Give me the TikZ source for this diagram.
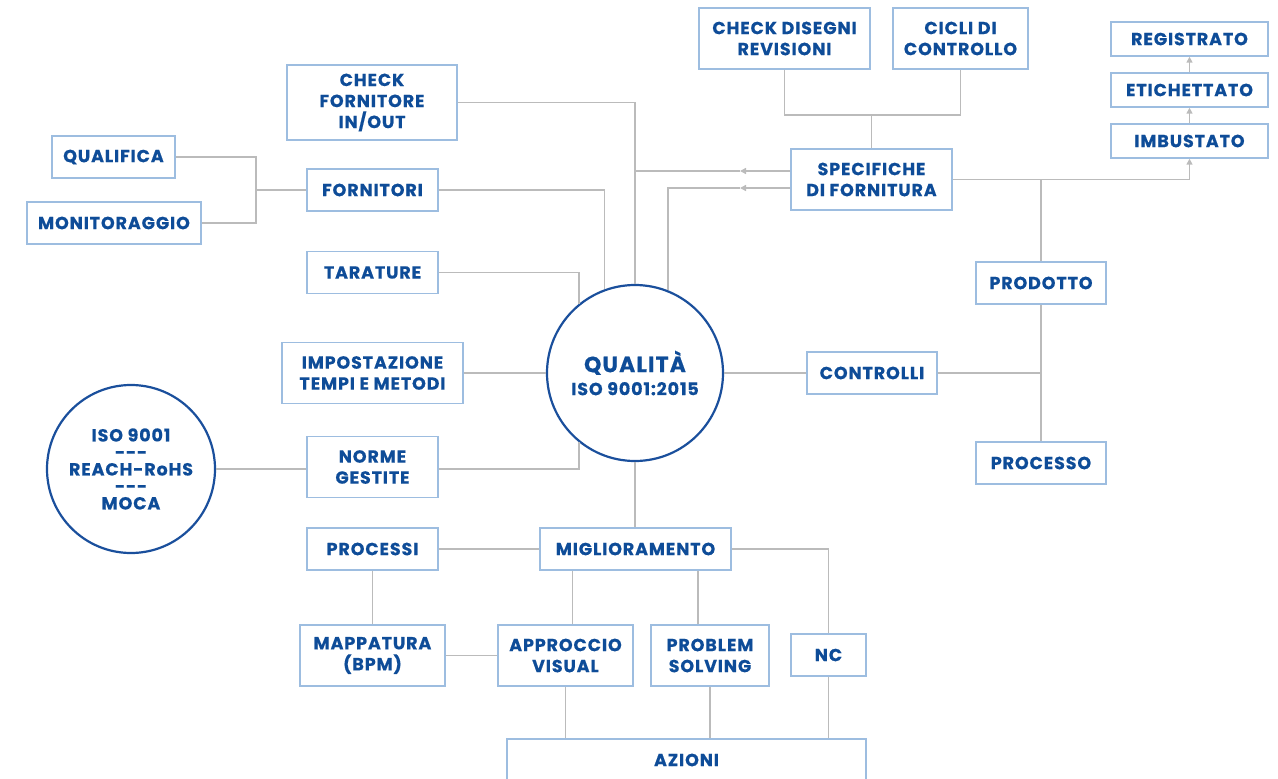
\documentclass[tikz,border=0pt]{standalone}
\usepackage{fontspec}
\setmainfont{Poppins}[LetterSpace=5, BoldFeatures={FakeBold=0.4}]
\usetikzlibrary{arrows.meta}
\definecolor{lbl}{HTML}{0E4C98}
\definecolor{frame}{HTML}{9DBDE0}
\definecolor{ringblue}{HTML}{1A4F9C}
\definecolor{wire}{HTML}{BBBBBB}

\begin{document}
\begin{tikzpicture}[x=1pt,y=-1pt,
  box/.style={draw=frame, line width=1.4pt, fill=white, inner sep=0pt, text=lbl,
    font=\bfseries\fontsize{17.5}{21}\selectfont, align=center},
  ring/.style={circle, draw=ringblue, line width=2.2pt, fill=white, inner sep=0pt,
    text=lbl, align=center},
  link/.style={draw=wire, line width=1.8pt},
  arrowlink/.style={link, -{Triangle[length=6pt,width=6pt]}}]

\useasboundingbox (0,0) rectangle (1278,779);

% top branch
\node[box, minimum width=171pt, minimum height=61pt] (disegni) at (784.5,38.5) {CHECK DISEGNI\\REVISIONI};
\node[box, minimum width=135pt, minimum height=61pt] (cicli) at (960.5,38.5) {CICLI DI\\CONTROLLO};
\node[box, minimum width=161pt, minimum height=61pt] (spec) at (871.5,179.5) {SPECIFICHE\\DI FORNITURA};

% packaging chain
\node[box, minimum width=157pt, minimum height=34pt] (reg) at (1189.5,39) {REGISTRATO};
\node[box, minimum width=157pt, minimum height=34pt] (etic) at (1189.5,90) {ETICHETTATO};
\node[box, minimum width=157pt, minimum height=34pt] (imb) at (1189.5,141) {IMBUSTATO};

% left branch
\node[box, minimum width=170pt, minimum height=75pt] (checkf) at (372,102.5) {CHECK\\FORNITORE\\IN/OUT};
\node[box, minimum width=123pt, minimum height=42pt] (qualif) at (113.5,157) {QUALIFICA};
\node[box, minimum width=174pt, minimum height=42pt] (monit) at (114,223) {MONITORAGGIO};
\node[box, minimum width=131pt, minimum height=42pt] (forn) at (372.5,190) {FORNITORI};
\node[box, minimum width=131pt, minimum height=42pt] (tar) at (372.5,272.5) {TARATURE};
\node[box, minimum width=181pt, minimum height=61pt] (imp) at (372.5,373) {IMPOSTAZIONE\\TEMPI E METODI};
\node[box, minimum width=131pt, minimum height=61pt] (norme) at (372.5,467) {NORME\\GESTITE};
\node[ring, minimum size=168pt, font=\bfseries\fontsize{17.5}{17}\selectfont] (iso) at (131,469)
  {ISO 9001\\-{}-{}-\\REACH-RoHS\\-{}-{}-\\MOCA};

% centre
\node[ring, minimum size=176pt, font=\bfseries\fontsize{22}{23}\selectfont] (qual) at (635,373)
  {QUALITÀ\\{\fontsize{17.5}{23}\selectfont ISO 9001:2015}};

% right branch
\node[box, minimum width=130pt, minimum height=42pt] (contr) at (872,373) {CONTROLLI};
\node[box, minimum width=130pt, minimum height=42pt] (prod) at (1041,283) {PRODOTTO};
\node[box, minimum width=130pt, minimum height=42pt] (procs) at (1041,463) {PROCESSO};

% bottom branch
\node[box, minimum width=131pt, minimum height=42pt] (processi) at (372.5,549) {PROCESSI};
\node[box, minimum width=191pt, minimum height=42pt] (migl) at (635.5,549) {MIGLIORAMENTO};
\node[box, minimum width=145pt, minimum height=61pt] (mapp) at (372.5,655.5) {MAPPATURA\\(BPM)};
\node[box, minimum width=135pt, minimum height=61pt] (appr) at (565.5,655.5) {APPROCCIO\\VISUAL};
\node[box, minimum width=118pt, minimum height=61pt] (probl) at (710,655.5) {PROBLEM\\SOLVING};
\node[box, minimum width=75pt, minimum height=42pt] (nc) at (828.5,655) {NC};
\node[box, minimum width=359pt, minimum height=42pt] (azioni) at (686.5,760) {AZIONI};

% junction points
\coordinate (jtop) at (871.5,115);
\coordinate (jforn) at (256,190);
\path (spec.west) ++(0,-8.5) coordinate (s1) ++(0,17) coordinate (s2);
\coordinate (a1) at (740,171);
\coordinate (a2) at (740,188);
\coordinate (t1) at (635,171);

% top connectors
\draw[link] (disegni.south) |- (jtop) -| (cicli.south);
\draw[link] (jtop) -- (spec.north);
\draw[link] (checkf.east) -| (qual.north);
\draw[arrowlink] (s1) -- (a1);
\draw[link] (a1) -- (t1);
\draw[arrowlink] (s2) -- (a2);
\draw[link] (a2) -| (qual.68);

% packaging arrows
\draw[arrowlink] (spec.east) -| (imb.south);
\draw[arrowlink] (imb.north) -- (etic.south);
\draw[arrowlink] (etic.north) -- (reg.south);

% right connectors
\draw[link] (spec.east -| prod.north) -- (prod.north);
\draw[link] (prod.south) -- (procs.north);
\draw[link] (qual.east) -- (contr.west);
\draw[link] (contr.east) -- (contr.east -| prod.south);

% left connectors
\draw[link] (qualif.east) -| (jforn) |- (monit.east);
\draw[link] (jforn) -- (forn.west);
\draw[link] (forn.east) -| (qual.110);
\draw[link] (tar.east) -| (qual.129);
\draw[link] (imp.east) -- (qual.west);
\draw[link] (norme.east |- 0,469) -| (qual.231);
\draw[link] (iso.east) -- (iso.east -| norme.west);

% bottom connectors
\draw[link] (qual.south) -- (qual.south |- migl.north);
\draw[link] (processi.east) -- (migl.west);
\draw[link] (migl.east) -| (nc.north);
\draw[link] (processi.south) -- (mapp.north);
\draw[link] ([xshift=7pt]appr.north) -- ([xshift=7pt]appr.north |- migl.south);
\draw[link] ([xshift=-12pt]probl.north) -- ([xshift=-12pt]probl.north |- migl.south);
\draw[link] (mapp.east) -- (appr.west);
\draw[link] (appr.south) -- (appr.south |- azioni.north);
\draw[link] (probl.south) -- (probl.south |- azioni.north);
\draw[link] (nc.south) -- (azioni.north -| nc.south);
\end{tikzpicture}
\end{document}
